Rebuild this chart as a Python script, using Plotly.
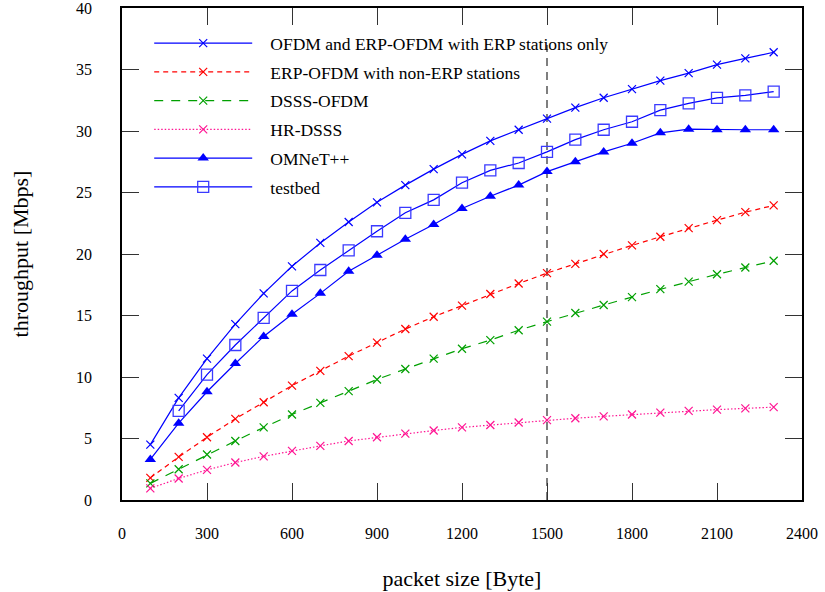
import plotly.graph_objects as go

packet_sizes = list(range(100, 2400, 100))
testbed_sizes = list(range(200, 2400, 100))

ofdm_erp_only = [4.5, 8.3, 11.5, 14.3, 16.8, 19.0, 20.9, 22.6, 24.2, 25.6, 26.9, 28.1,
                 29.2, 30.1, 31.0, 31.9, 32.7, 33.4, 34.1, 34.7, 35.4, 35.9, 36.4]
erp_non_erp = [1.8, 3.5, 5.1, 6.6, 7.95, 9.3, 10.5, 11.7, 12.8, 13.9, 14.9, 15.8,
               16.75, 17.6, 18.45, 19.2, 20.0, 20.7, 21.4, 22.1, 22.75, 23.4, 23.95]
dsss_ofdm = [1.35, 2.5, 3.7, 4.8, 5.9, 6.95, 7.9, 8.85, 9.8, 10.65, 11.5, 12.3,
             13.0, 13.8, 14.5, 15.2, 15.85, 16.5, 17.15, 17.75, 18.35, 18.9, 19.45]
hr_dsss = [0.95, 1.75, 2.45, 3.05, 3.55, 4.0, 4.4, 4.8, 5.1, 5.4, 5.65, 5.9,
           6.1, 6.3, 6.5, 6.65, 6.8, 6.95, 7.1, 7.25, 7.35, 7.45, 7.55]
omnet = [3.3, 6.25, 8.8, 11.1, 13.3, 15.1, 16.8, 18.6, 19.9, 21.2, 22.4, 23.7,
         24.7, 25.6, 26.7, 27.5, 28.3, 29.0, 29.85, 30.15, 30.1, 30.1, 30.1]
testbed = [7.25, 10.2, 12.6, 14.8, 17.0, 18.7, 20.3, 21.85, 23.35, 24.4, 25.8,
           26.8, 27.4, 28.3, 29.3, 30.1, 30.75, 31.7, 32.25, 32.7, 32.9, 33.2]

marker_line_x = [1500, 1500]
marker_line_y = [0, 37]

x_ticks = list(range(0, 2401, 300))
y_ticks = list(range(0, 41, 5))

FONT = "Liberation Serif"
PAD = "\u00a0\u00a0\u00a0"

fig = go.Figure()

fig.add_trace(go.Scatter(x=marker_line_x, y=marker_line_y, mode="lines",
                         line=dict(color="#555555", width=1.5, dash="8px,6px"),
                         showlegend=False, hoverinfo="skip"))

def xmark(color):
    return dict(symbol="x-thin-open", size=8, color=color, line=dict(color=color, width=1.2))

fig.add_trace(go.Scatter(x=packet_sizes, y=ofdm_erp_only, mode="lines+markers",
                         name=PAD + "OFDM and ERP-OFDM with ERP stations only", legendgroup="a",
                         line=dict(color="#0000ff", width=1.2), marker=xmark("#0000ff")))
fig.add_trace(go.Scatter(x=packet_sizes, y=erp_non_erp, mode="lines+markers",
                         name=PAD + "ERP-OFDM with non-ERP stations", legendgroup="b",
                         line=dict(color="#ff0000", width=1.2, dash="5px,4px"), marker=xmark("#ff0000")))
fig.add_trace(go.Scatter(x=packet_sizes, y=dsss_ofdm, mode="lines+markers",
                         name=PAD + "DSSS-OFDM", legendgroup="c",
                         line=dict(color="#00a000", width=1.2, dash="9px,8px"), marker=xmark("#00a000")))
fig.add_trace(go.Scatter(x=packet_sizes, y=hr_dsss, mode="lines+markers",
                         name=PAD + "HR-DSSS", legendgroup="d",
                         line=dict(color="#ff1493", width=1.2, dash="1.5px,2px"), marker=xmark("#ff1493")))
fig.add_trace(go.Scatter(x=packet_sizes, y=omnet, mode="lines+markers",
                         name=PAD + "OMNeT++", legendgroup="e",
                         line=dict(color="#0000ff", width=1.2),
                         marker=dict(symbol="triangle-up", size=10, color="#0000ff")))
fig.add_trace(go.Scatter(x=testbed_sizes, y=testbed, mode="lines+markers",
                         name=PAD + "testbed", legendgroup="f",
                         line=dict(color="#0000ff", width=1.2),
                         marker=dict(symbol="square-open", size=11, color="#3a3aff",
                                     line=dict(width=1.3, color="#3a3aff"))))

axis_common = dict(showline=True, linecolor="black", linewidth=1.5, mirror="allticks",
                   ticks="inside", ticklen=17, tickwidth=1.2, tickcolor="#333333",
                   showgrid=False, zeroline=False, automargin=False,
                   ticklabeloverflow="allow",
                   tickfont=dict(family=FONT, size=16, color="black"))

fig.update_xaxes(range=[0, 2400], tickvals=x_ticks, ticktext=[str(v) for v in x_ticks],
                 title=dict(text="packet size [Byte]", font=dict(family=FONT, size=22, color="black"),
                            standoff=30), ticklabelstandoff=18, **axis_common)
fig.update_yaxes(range=[0, 40], tickvals=y_ticks, ticktext=[str(v) for v in y_ticks],
                 title=dict(text="throughput [Mbps]", font=dict(family=FONT, size=22, color="black"),
                            standoff=41), ticklabelstandoff=25, **axis_common)

fig.update_layout(
    width=825, height=592,
    margin=dict(l=122, r=23, t=8, b=92),
    plot_bgcolor="white", paper_bgcolor="white",
    font=dict(family=FONT, size=16, color="black"),
    legend=dict(x=0.04, y=0.965, xanchor="left", yanchor="top",
                bgcolor="rgba(0,0,0,0)", borderwidth=0,
                font=dict(family=FONT, size=17.5, color="black"),
                itemwidth=98, tracegroupgap=3, traceorder="grouped"),
)

fig.write_html("out.html")
